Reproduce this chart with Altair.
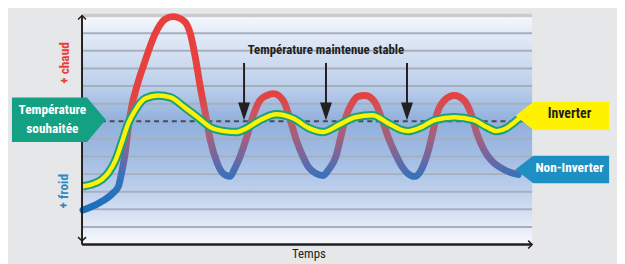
import altair as alt
import pandas as pd

# ---- data (time units 0..100, temperature levels 0..13) ----
non_inv_t = [0.2, 3.7, 6.6, 8.1, 8.8, 9.6, 10.3, 11.0, 12.1, 14.0, 16.2, 18.4, 20.2, 22.8, 24.1, 25.2, 26.3, 27.4,
             28.5, 30.0, 31.6, 32.9, 33.8, 35.1, 36.6, 38.2, 39.5, 41.0, 42.5, 44.7, 46.1, 47.6, 49.1, 50.4, 52.0,
             53.5, 54.8, 56.4, 57.5, 58.6, 60.1, 61.4, 62.9, 65.1, 66.7, 68.0, 69.5, 71.1, 72.4, 73.9, 75.4, 76.8,
             77.9, 78.9, 80.5, 82.7, 84.9, 86.4, 87.7, 89.3, 90.8, 93.0, 95.2, 96.9]
non_inv_v = [1.96, 2.35, 2.86, 3.31, 4.09, 5.21, 6.67, 7.79, 8.91, 10.42, 11.94, 12.78, 12.94, 12.66, 11.94, 10.59,
             8.91, 7.45, 5.94, 4.65, 3.98, 3.87, 4.26, 4.99, 6.11, 7.45, 8.18, 8.46, 8.57, 8.18, 7.23, 5.94, 4.99,
             4.37, 4.03, 3.92, 4.26, 4.99, 6.11, 7.23, 8.07, 8.41, 8.46, 8.07, 7.06, 6.11, 5.21, 4.43, 4.03, 3.87,
             4.26, 5.21, 6.33, 7.45, 8.18, 8.46, 8.18, 7.45, 6.33, 5.38, 4.82, 4.37, 4.09, 3.98]

inv_t = [0.2, 2.2, 4.4, 5.9, 7.5, 8.8, 10.3, 11.8, 14.0, 16.9, 19.7, 22.8, 25.7, 28.5, 31.6, 34.4, 36.6, 39.5,
         43.2, 46.9, 50.4, 53.5, 57.0, 60.7, 64.5, 68.0, 71.1, 72.4, 75.4, 78.3, 82.7, 87.1, 89.9, 92.1, 94.3,
         95.8, 97.4]
inv_v = [3.31, 3.42, 3.70, 4.09, 4.82, 5.77, 6.89, 7.62, 8.29, 8.46, 8.35, 7.79, 7.23, 6.67, 6.44, 6.39, 6.61,
         7.06, 7.40, 7.17, 6.61, 6.39, 6.78, 7.23, 7.34, 6.89, 6.50, 6.44, 6.67, 7.06, 7.23, 7.06, 6.67, 6.44,
         6.61, 6.89, 7.23]

target_level = 7
grid_levels = [1, 2, 3, 4, 5, 6, 8, 9, 10, 11, 12]
top_level = 13
arrow_t = [36.0, 54.2, 72.2]

FONT = "Noto Sans Condensed, Roboto Condensed, Roboto, sans-serif"

X = alt.Scale(domain=[0, 100], nice=False, zero=False)
Y = alt.Scale(domain=[0, 13], nice=False, zero=False)


def xq(f="t"):
    return alt.X(f"{f}:Q", scale=X, axis=None)


def yq(f="v"):
    return alt.Y(f"{f}:Q", scale=Y, axis=None)


# background gradient
bg = alt.Chart(pd.DataFrame({"t": [0], "t2": [100], "v": [0], "v2": [13]})).mark_rect(
    fill=alt.LinearGradient(
        gradient="linear", x1=0, x2=0, y1=0, y2=1,
        stops=[
            alt.GradientStop(color="#f6f8fc", offset=0),
            alt.GradientStop(color="#e3eaf6", offset=0.08),
            alt.GradientStop(color="#bccfeb", offset=0.31),
            alt.GradientStop(color="#91b0dc", offset=0.46),
            alt.GradientStop(color="#a3bde3", offset=0.62),
            alt.GradientStop(color="#bfd0ec", offset=0.77),
            alt.GradientStop(color="#e4eaf6", offset=0.92),
            alt.GradientStop(color="#f7f9fd", offset=1),
        ],
    )
).encode(x=xq("t"), x2="t2:Q", y=yq("v"), y2="v2:Q")

grid = alt.Chart(pd.DataFrame({"v": grid_levels})).mark_rule(color="#a6afbe", strokeWidth=2).encode(y=yq())
topband = alt.Chart(pd.DataFrame({"v": [top_level]})).mark_rule(color="#cacbce", strokeWidth=3.5).encode(y=yq())
dashed = alt.Chart(pd.DataFrame({"v": [target_level]})).mark_rule(
    color="#4a4a4d", strokeWidth=2, strokeDash=[5, 4]).encode(y=yq())

non_inv = alt.Chart(pd.DataFrame({"t": non_inv_t, "v": non_inv_v})).mark_line(
    interpolate="monotone", strokeWidth=7, strokeCap="round",
    stroke=alt.LinearGradient(
        gradient="linear", x1=0, x2=0, y1=0, y2=1,
        stops=[
            alt.GradientStop(color="#e83f3c", offset=0),
            alt.GradientStop(color="#e5423f", offset=0.40),
            alt.GradientStop(color="#c45866", offset=0.52),
            alt.GradientStop(color="#9b6183", offset=0.64),
            alt.GradientStop(color="#6a68a5", offset=0.74),
            alt.GradientStop(color="#3b72b8", offset=0.82),
            alt.GradientStop(color="#1871bd", offset=1),
        ],
    ),
).encode(x=xq(), y=yq())

inv_df = pd.DataFrame({"t": inv_t, "v": inv_v})
inv_outline = alt.Chart(inv_df).mark_line(interpolate="monotone", strokeWidth=8.5, color="#1aa07e").encode(x=xq(), y=yq())
inv_line = alt.Chart(inv_df).mark_line(interpolate="monotone", strokeWidth=4.5, color="#fff200").encode(x=xq(), y=yq())

# axes
yaxis = alt.Chart(pd.DataFrame({"t": [0], "v": [0], "v2": [13]})).mark_rule(
    color="#231f20", strokeWidth=2).encode(x=xq(), y=yq(), y2="v2:Q")
xaxis = alt.Chart(pd.DataFrame({"t": [0], "t2": [100], "v": [0]})).mark_rule(
    color="#231f20", strokeWidth=2.5).encode(x=xq(), x2="t2:Q", y=yq())
up_head = alt.Chart(pd.DataFrame({"t": [0], "v": [13]})).mark_point(
    shape="M-1,1 L0,0 L1,1", filled=False, stroke="#231f20", strokeWidth=1.5, size=64, opacity=1
).encode(x=xq(), y=yq())
down_head = alt.Chart(pd.DataFrame({"t": [0], "v": [0.2]})).mark_point(
    shape="M-1,-1 L0,0 L1,-1", filled=False, stroke="#231f20", strokeWidth=1.5, size=64, opacity=1
).encode(x=xq(), y=yq())
right_head = alt.Chart(pd.DataFrame({"t": [100], "v": [0]})).mark_point(
    shape="M-1,-1 L0,0 L-1,1", filled=False, stroke="#231f20", strokeWidth=1.5, size=64, opacity=1
).encode(x=xq(), y=yq())

# stable arrows
arr_df = pd.DataFrame({"t": arrow_t, "v": [10.31] * 3, "v2": [7.96] * 3, "vh": [7.56] * 3})
shafts = alt.Chart(arr_df).mark_rule(color="#231f20", strokeWidth=2).encode(x=xq(), y=yq(), y2="v2:Q")
heads = alt.Chart(arr_df).mark_point(
    shape="M-0.67,-1 L0.67,-1 L0,1 Z", filled=True, color="#231f20", size=324, opacity=1
).encode(x=xq(), y=yq("vh"))

# label boxes
teal_box = alt.Chart(pd.DataFrame({"t": [-5.15], "v": [7.09]})).mark_point(
    shape="M-1,-0.474 L0.6,-0.474 L1,0 L0.6,0.474 L-1,0.474 Z", filled=True, color="#14a083",
    size=9025, opacity=1).encode(x=xq(), y=yq())
right_shape = "M-1,0 L-0.62,-0.295 L1,-0.295 L1,0.295 L-0.62,0.295 Z"
yellow_box = alt.Chart(pd.DataFrame({"t": [106.7], "v": [7.31]})).mark_point(
    shape=right_shape, filled=True, color="#fff200", size=9025, opacity=1).encode(x=xq(), y=yq())
blue_box = alt.Chart(pd.DataFrame({"t": [106.7], "v": [4.26]})).mark_point(
    shape=right_shape, filled=True, color="#1e8fc2", size=9025, opacity=1).encode(x=xq(), y=yq())


def label(text, t, v, color, size=15, weight="bold", angle=0):
    return alt.Chart(pd.DataFrame({"t": [t], "v": [v], "s": [text]})).mark_text(
        font=FONT, fontSize=size, fontWeight=weight, color=color, angle=angle,
        align="center", baseline="middle").encode(x=xq(), y=yq(), text="s:N")


texts = [
    label("Température maintenue stable", 54.2, 11.04, "#231f20", 13),
    label("Inverter", 108.3, 7.40, "#231f20", 14),
    label("Non-Inverter", 108.3, 4.37, "#ffffff", 13.5),
    label("Température", -6.6, 7.62, "#ffffff", 13.5),
    label("souhaitée", -6.6, 6.53, "#ffffff", 13.5),
    label("+ chaud", -3.7, 10.31, "#e8403b", 13.5, angle=270),
    label("+ froid", -3.9, 3.03, "#2b8bc6", 13.5, angle=270),
    label("Temps", 50.4, -0.56, "#231f20", 13, weight="normal"),
]

chart = alt.layer(
    bg, grid, topband, dashed, non_inv, inv_outline, inv_line,
    yaxis, xaxis, up_head, down_head, right_head,
    shafts, heads, teal_box, yellow_box, blue_box, *texts
).properties(
    width=456, height=232,
    autosize=alt.AutoSizeParams(type="none"),
    padding={"left": 75, "top": 6, "right": 86, "bottom": 18},
    background="#e6e7e8",
).configure_view(strokeWidth=0)

chart.save("out.html", embed_options={"renderer": "svg", "actions": False})
